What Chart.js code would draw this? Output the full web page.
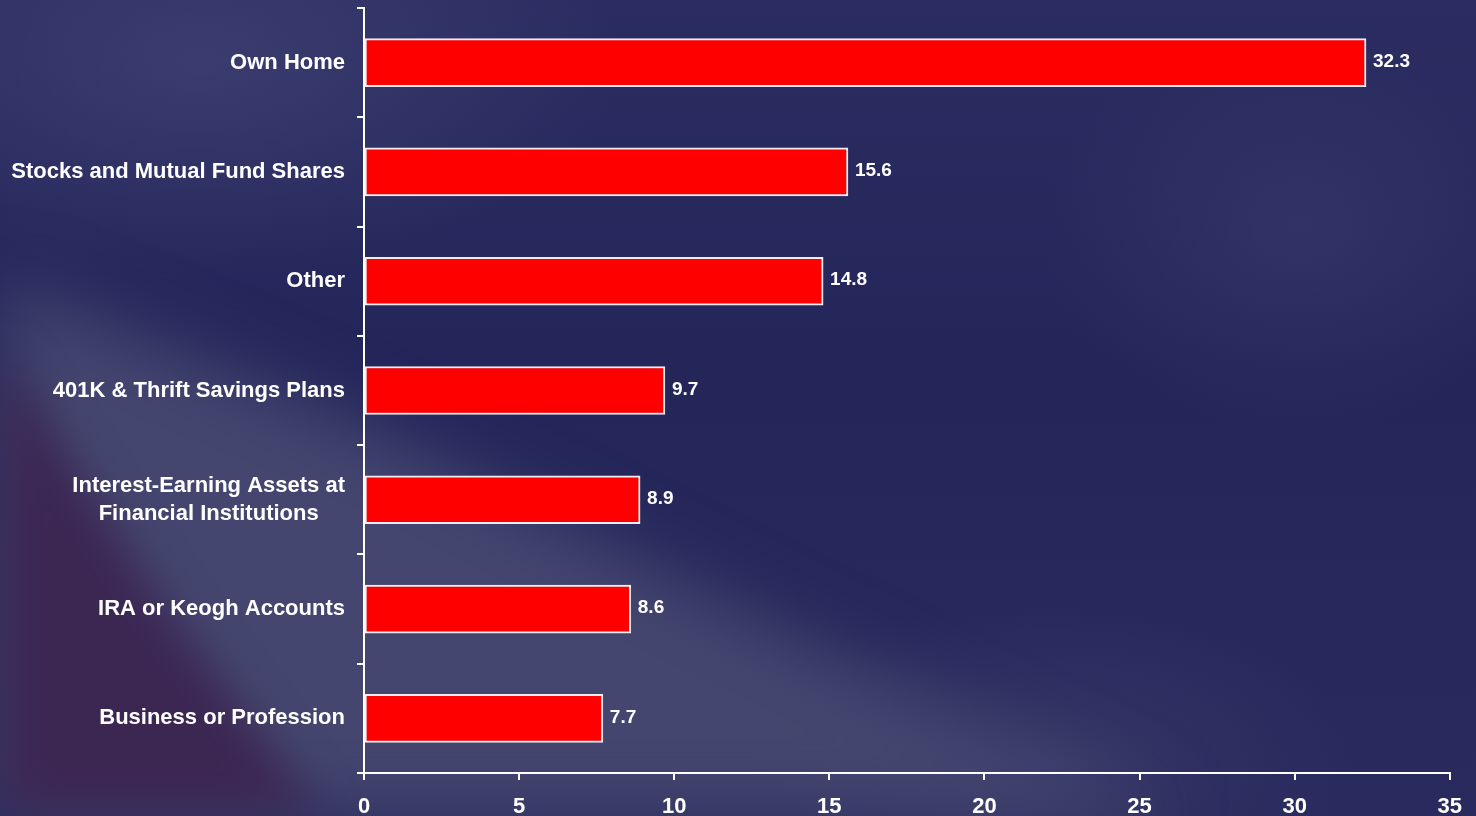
<!DOCTYPE html>
<html>
<head>
<meta charset="utf-8">
<script src="https://cdn.jsdelivr.net/npm/chart.js@4.4.0/dist/chart.umd.min.js"></script>
<style>
  html, body { margin: 0; padding: 0; }
  body { width: 1476px; height: 816px; overflow: hidden; background: #26285b; }
  #wrap { position: relative; width: 1476px; height: 816px; overflow: hidden;
    background:
      radial-gradient(ellipse 420px 220px at 200px 60px, rgba(72,74,122,0.55), rgba(72,74,122,0) 100%),
      radial-gradient(ellipse 260px 200px at 1300px 230px, rgba(62,64,112,0.45), rgba(62,64,112,0) 100%),
      radial-gradient(ellipse 300px 160px at 1050px 760px, rgba(66,68,112,0.5), rgba(66,68,112,0) 100%),
      linear-gradient(180deg, #2b2d62 0%, #24265a 45%, #292a5d 100%);
  }
  .blur { position: absolute; left: 0; top: 0; width: 1476px; height: 816px; }
  .shape { position: absolute; left: 0; top: 0; width: 1476px; height: 816px; }
  #bandWrap { filter: blur(35px); }
  #redWrap { filter: blur(22px); }
  #band { background: #44466f; clip-path: polygon(-100px 240px, 350px 420px, 800px 640px, 1200px 830px, -100px 830px); }
  #red { background: #3c2753; clip-path: polygon(-100px 330px, 0 350px, 70px 460px, 160px 600px, 250px 720px, 330px 830px, -100px 830px); }
  #chart { position: absolute; left: 0; top: 0; }
</style>
</head>
<body>
<div id="wrap">
  <div class="blur" id="bandWrap"><div class="shape" id="band"></div></div>
  <div class="blur" id="redWrap"><div class="shape" id="red"></div></div>
  <canvas id="chart" width="1476" height="816"></canvas>
</div>
<script>
// categories, top to bottom
const categories = [
  ['Own Home'],
  ['Stocks and Mutual Fund Shares'],
  ['Other'],
  ['401K & Thrift Savings Plans'],
  ['Interest-Earning Assets at', 'Financial Institutions'],
  ['IRA or Keogh Accounts'],
  ['Business or Profession']
];
const values = [32.3, 15.6, 14.8, 9.7, 8.9, 8.6, 7.7];
const xMin = 0;
const xMax = 35;
const xStep = 5;

const FONT = '"Liberation Sans", Arial, sans-serif';

// category labels + value labels
const labelPlugin = {
  id: 'labels',
  afterDatasetsDraw(chart) {
    const ctx = chart.ctx;
    const yScale = chart.scales.y;
    const meta = chart.getDatasetMeta(0);
    ctx.save();
    ctx.fillStyle = '#ffffff';
    ctx.textBaseline = 'middle';
    ctx.font = 'bold 22px ' + FONT;
    categories.forEach((lines, i) => {
      const cy = yScale.getPixelForValue(i);
      const right = yScale.right - 19;
      const w = Math.max(...lines.map(l => ctx.measureText(l).width));
      ctx.textAlign = 'center';
      lines.forEach((l, j) => {
        ctx.fillText(l, right - w / 2, cy + (j - (lines.length - 1) / 2) * 28);
      });
    });
    ctx.font = 'bold 19px ' + FONT;
    ctx.textAlign = 'left';
    meta.data.forEach((bar, i) => {
      ctx.fillText(values[i].toFixed(1), bar.x + 7, bar.y - 1);
    });
    ctx.restore();
  }
};

new Chart(document.getElementById('chart'), {
  type: 'bar',
  data: {
    labels: categories,
    datasets: [{
      data: values,
      backgroundColor: '#ff0000',
      borderColor: '#eeeef4',
      borderWidth: 2,
      borderSkipped: false,
      barThickness: 48
    }]
  },
  options: {
    indexAxis: 'y',
    responsive: false,
    animation: false,
    devicePixelRatio: 1,
    layout: { padding: { top: 8, right: 26, left: 0, bottom: 0 } },
    plugins: {
      legend: { display: false },
      tooltip: { enabled: false }
    },
    scales: {
      x: {
        min: xMin,
        max: xMax,
        ticks: {
          stepSize: xStep,
          color: '#ffffff',
          padding: 14,
          font: { family: FONT, size: 22, weight: 'bold' }
        },
        grid: { drawOnChartArea: false, color: '#ffffff', lineWidth: 2, tickLength: 7 },
        border: { color: '#ffffff', width: 2 },
        afterFit(scale) { scale.height = 43; }
      },
      y: {
        ticks: { display: false },
        grid: { drawOnChartArea: false, color: '#ffffff', lineWidth: 2, tickLength: 7 },
        border: { color: '#ffffff', width: 2 },
        afterFit(scale) { scale.width = 364; }
      }
    }
  },
  plugins: [labelPlugin]
});
</script>
</body>
</html>
